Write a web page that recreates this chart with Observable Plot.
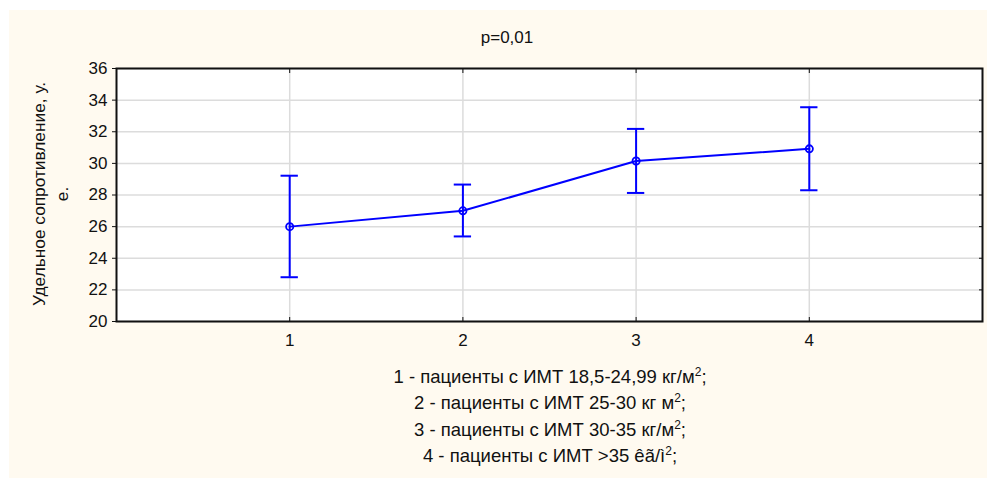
<!DOCTYPE html>
<html><head><meta charset="utf-8">
<script src="https://cdn.jsdelivr.net/npm/d3@7"></script>
<script src="https://cdn.jsdelivr.net/npm/@observablehq/plot@0.6"></script>
<style>
body{margin:0;background:#fff;font-family:Arial,"Liberation Sans",sans-serif;}
#wrap{position:relative;width:987px;height:478px;overflow:hidden;}
#bg{position:absolute;left:9px;top:10px;right:0;bottom:0;background:#FFFAF0;}
#chart{position:absolute;left:0;top:0;}
.t{position:absolute;color:#111;white-space:nowrap;font-size:17px;}
#title{left:507px;top:38px;transform:translate(-50%,-50%);}
#ylab{left:51px;top:194px;transform:translate(-50%,-50%) rotate(-90deg);text-align:center;line-height:23px;font-size:17.3px;}
#cap{left:550px;top:418px;transform:translate(-50%,-50%);text-align:center;line-height:24.3px;font-size:18.5px;}
#cap sup{font-size:12px;vertical-align:0;position:relative;top:-7px;}
</style></head><body>
<div id="wrap">
<div id="bg"></div>
<div id="chart"></div>
<div id="title" class="t"></div>
<div id="ylab" class="t"></div>
<div id="cap" class="t"></div>
</div>
<script>
// ---- data ----
const groups = [1, 2, 3, 4];
const means = [26.0, 27.0, 30.15, 30.92];
const lower = [22.8, 25.38, 28.13, 28.3];
const upper = [29.22, 28.66, 32.18, 33.55];
const yTicks = [20, 22, 24, 26, 28, 30, 32, 34, 36];
const titleText = "p=0,01";
const yLabelLines = ["Удельное сопротивление, у.", "е."];
const captionLines = [
  ["1 - пациенты с ИМТ 18,5-24,99 кг/м", "2", ";"],
  ["2 - пациенты с ИМТ 25-30 кг м", "2", ";"],
  ["3 - пациенты с ИМТ 30-35 кг/м", "2", ";"],
  ["4 - пациенты с ИМТ >35 êã/ì", "2", ";"]
];

const data = groups.map((g, i) => ({g, mean: means[i], lo: lower[i], hi: upper[i]}));
const blue = "#0000FF";
const capHalf = 0.05;

const plot = Plot.plot({
  width: 987,
  height: 478,
  marginLeft: 116,
  marginRight: 5,
  marginTop: 68,
  marginBottom: 157,
  x: {domain: [0, 5]},
  y: {domain: [20, 36]},
  style: {background: "transparent", fontFamily: "Arial, 'Liberation Sans', sans-serif", fontSize: "17px", color: "#111"},
  marks: [
    Plot.frame({fill: "white", stroke: null}),
    Plot.gridY(yTicks, {stroke: "#dcdcdc", strokeOpacity: 1, strokeWidth: 1.5}),
    Plot.gridX(groups, {stroke: "#dcdcdc", strokeOpacity: 1, strokeWidth: 1.5}),
    Plot.axisY(yTicks, {anchor: "left", tickSize: 4, tickPadding: 5, label: null}),
    Plot.axisY(yTicks, {anchor: "right", tickSize: 4, insetRight: 4, tickFormat: () => "", label: null}),
    Plot.axisX(groups, {anchor: "bottom", tickSize: 4, insetBottom: 4, tickFormat: () => "", label: null}),
    Plot.axisX(groups, {anchor: "top", tickSize: 4, insetTop: 4, tickFormat: () => "", label: null}),
    Plot.axisX(groups, {anchor: "bottom", tickSize: 0, tickPadding: 12, tickFormat: d => String(d), label: null}),
    Plot.ruleX(data, {x: "g", y1: "lo", y2: "hi", stroke: blue, strokeWidth: 2}),
    Plot.ruleY(data, {y: "lo", x1: d => d.g - capHalf, x2: d => d.g + capHalf, stroke: blue, strokeWidth: 2}),
    Plot.ruleY(data, {y: "hi", x1: d => d.g - capHalf, x2: d => d.g + capHalf, stroke: blue, strokeWidth: 2}),
    Plot.line(data, {x: "g", y: "mean", stroke: blue, strokeWidth: 2}),
    Plot.dot(data, {x: "g", y: "mean", r: 3.6, stroke: blue, fill: "none", strokeWidth: 1.8}),
    Plot.frame({stroke: "#111", strokeWidth: 2})
  ]
});
document.getElementById("chart").appendChild(plot);

document.getElementById("title").textContent = titleText;
document.getElementById("ylab").innerHTML = yLabelLines.map(s => `<div>${s}</div>`).join("");
const cap = document.getElementById("cap");
captionLines.forEach(([a, s, b]) => {
  const div = document.createElement("div");
  div.appendChild(document.createTextNode(a));
  const sup = document.createElement("sup");
  sup.textContent = s;
  div.appendChild(sup);
  div.appendChild(document.createTextNode(b));
  cap.appendChild(div);
});
</script>
</body></html>
